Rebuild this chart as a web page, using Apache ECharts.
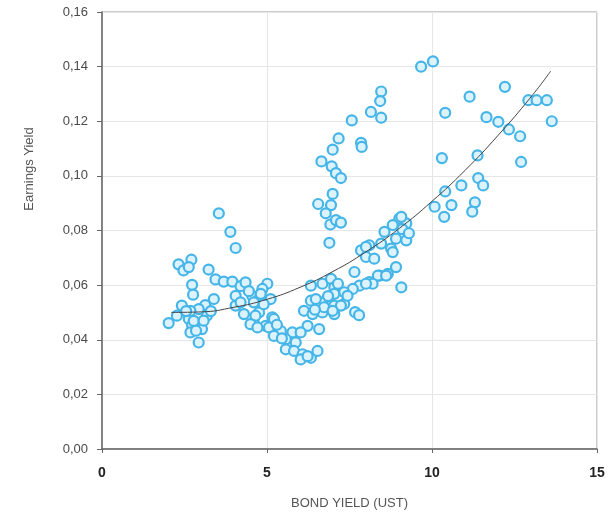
<!DOCTYPE html>
<html>
<head>
<meta charset="utf-8">
<script src="https://cdn.jsdelivr.net/npm/echarts@6/dist/echarts.min.js"></script>
<style>
html,body{margin:0;padding:0;background:#fff;}
#chart{width:612px;height:517px;}
</style>
</head>
<body>
<div id="chart"></div>
<script>
// Bond yield (x) and earnings yield (y)
var bondYield = [
  3.54,3.89,4.05,2.32,2.71,2.47,2.63,3.23,2.73,2.76,3.44,3.69,3.95,4.20,4.35,5.01,4.86,4.55,4.76,2.42,
  3.39,3.13,2.93,2.02,2.27,2.63,2.73,3.03,2.68,2.93,3.18,4.05,4.30,4.60,4.96,5.16,4.76,2.68,2.78,3.08,
  4.81,4.05,4.20,4.60,5.11,4.65,5.21,4.50,4.71,5.06,5.42,5.77,5.21,5.57,5.87,5.57,5.82,6.08,6.02,6.33,
  6.53,6.58,6.23,6.02,6.12,6.33,6.63,6.94,6.68,7.04,6.38,6.33,6.68,6.94,7.04,
  8.46,8.43,8.15,8.46,7.57,7.17,7.85,7.87,6.99,6.65,6.96,7.09,7.24,6.99,6.55,6.94,6.78,6.92,7.09,7.24,6.89,
  9.01,9.22,8.81,8.56,8.91,9.22,8.46,8.76,8.10,7.85,8.00,8.25,8.91,8.66,8.41,7.65,8.10,7.80,7.60,9.07,
  7.34,7.04,7.34,7.04,6.73,6.48,7.67,7.79,9.07,8.81,8.00,8.36,8.61,8.20,8.00,7.44,7.24,6.99,6.23,
  10.03,9.67,12.21,11.14,12.92,13.17,13.48,10.40,11.65,12.01,13.63,12.33,12.67,10.30,11.38,12.70,11.40,11.55,10.89,10.40,
  10.08,10.59,11.30,11.22,10.37,
  2.85,2.55,3.30,4.45,4.90,5.30,5.45,6.45,6.85,7.15,9.10,9.30
];
var earningsYield = [
  0.0863,0.0795,0.0736,0.0676,0.0693,0.0654,0.0666,0.0657,0.0601,0.0565,0.0621,0.0613,0.0613,0.0596,0.0610,0.0605,0.0586,0.0561,0.0549,0.0525,
  0.0549,0.0527,0.0512,0.0461,0.0488,0.0476,0.0453,0.0439,0.0427,0.0390,0.0488,0.0525,0.0494,0.0463,0.0451,0.0482,0.0500,0.0506,0.0469,0.0470,
  0.0568,0.0561,0.0537,0.0537,0.0549,0.0488,0.0476,0.0457,0.0445,0.0445,0.0432,0.0427,0.0414,0.0402,0.0390,0.0365,0.0359,0.0347,0.0328,0.0334,
  0.0359,0.0439,0.0451,0.0427,0.0506,0.0543,0.0537,0.0525,0.0500,0.0494,0.0494,0.0598,0.0605,0.0623,0.0592,
  0.1309,0.1274,0.1234,0.1213,0.1203,0.1137,0.1121,0.1106,0.1096,0.1053,0.1035,0.1010,0.0992,0.0934,0.0897,0.0893,0.0863,0.0822,0.0838,0.0829,0.0755,
  0.0844,0.0826,0.0820,0.0795,0.0770,0.0764,0.0752,0.0734,0.0746,0.0727,0.0703,0.0697,0.0666,0.0641,0.0635,0.0648,0.0611,0.0598,0.0586,0.0592,
  0.0574,0.0568,0.0531,0.0525,0.0519,0.0549,0.0501,0.0490,0.0850,0.0721,0.0740,0.0635,0.0635,0.0605,0.0605,0.0561,0.0525,0.0506,0.0340,
  0.1419,0.1400,0.1326,0.1290,0.1277,0.1277,0.1277,0.1231,0.1215,0.1198,0.1200,0.1170,0.1145,0.1065,0.1075,0.1051,0.0992,0.0965,0.0965,0.0943,
  0.0887,0.0893,0.0903,0.0869,0.0850,
  0.0433,0.0505,0.0505,0.0578,0.0530,0.0455,0.0405,0.0510,0.0560,0.0605,0.0805,0.0790
];
// Trend line
var trendX = [2.1, 3, 4, 5, 6, 7, 8, 9, 10, 11, 12, 13, 13.6];
var trendY = [0.0500, 0.0502, 0.0519, 0.0548, 0.0592, 0.0650, 0.0722, 0.0807, 0.0907, 0.1020, 0.1148, 0.1289, 0.1384];
var xTicks = [0, 5, 10, 15];
var yTicks = [0, 0.02, 0.04, 0.06, 0.08, 0.10, 0.12, 0.14, 0.16];

var points = bondYield.map(function (x, i) { return [x, earningsYield[i]]; });
var trend = trendX.map(function (x, i) { return [x, trendY[i]]; });

var chart = echarts.init(document.getElementById('chart'));
chart.setOption({
  animation: false,
  backgroundColor: '#fff',
  grid: { left: 102, right: 15, top: 12, bottom: 68, show: true, borderColor: '#9a9a9a', borderWidth: 1, backgroundColor: 'transparent' },
  xAxis: {
    type: 'value', min: xTicks[0], max: xTicks[xTicks.length - 1], interval: 5,
    name: 'BOND YIELD (UST)', nameLocation: 'middle', nameGap: 48,
    nameTextStyle: { fontFamily: 'Liberation Sans, Arial', fontSize: 13, color: '#555' },
    axisLine: { show: true, lineStyle: { color: '#666', width: 1.5 } },
    axisTick: { show: true, length: 4, lineStyle: { color: '#666' } },
    axisLabel: { margin: 17, fontFamily: 'Liberation Sans, Arial', fontSize: 14, fontWeight: 'bold', color: '#222' },
    splitLine: { show: true, lineStyle: { color: '#e6e6e6' } }
  },
  yAxis: {
    type: 'value', min: yTicks[0], max: yTicks[yTicks.length - 1], interval: 0.02,
    axisLine: { show: true, lineStyle: { color: '#666', width: 1.5 } },
    axisTick: { show: true, length: 5, lineStyle: { color: '#666' } },
    axisLabel: { margin: 14, fontFamily: 'Liberation Sans, Arial', fontSize: 13, color: '#4a4a4a',
      formatter: function (v) { return v.toFixed(2).replace('.', ','); } },
    splitLine: { show: true, lineStyle: { color: '#e6e6e6' } }
  },
  graphic: [{
    type: 'text', x: 29, y: 169, rotation: Math.PI / 2,
    style: { text: 'Earnings Yield', fontFamily: 'Liberation Sans, Arial', fontSize: 13, fill: '#555', align: 'center', verticalAlign: 'middle' }
  }],
  series: [{
    type: 'scatter', data: points, symbol: 'circle', symbolSize: 10,
    itemStyle: { color: '#dcf3fd', borderColor: '#46b5e8', borderWidth: 2.2, opacity: 1 },
    z: 2
  }, {
    type: 'line', data: trend, smooth: true, symbol: 'none',
    lineStyle: { color: '#444', width: 1 }, z: 3
  }]
});
</script>
</body>
</html>
